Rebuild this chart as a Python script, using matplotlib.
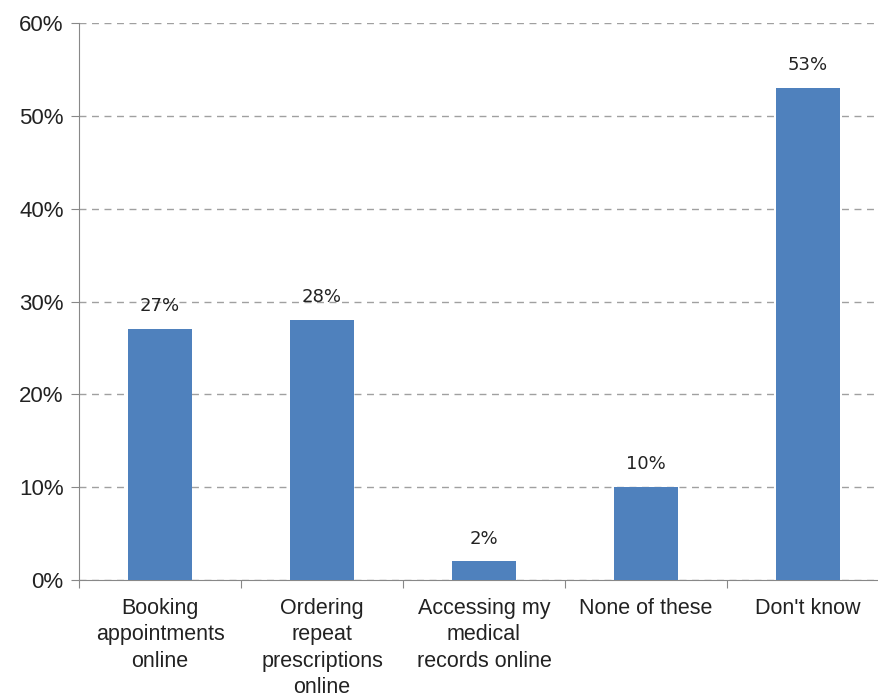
import matplotlib.pyplot as plt
from matplotlib.ticker import FuncFormatter

# datos
categorias = ["Booking\nappointments\nonline", "Ordering\nrepeat\nprescriptions\nonline",
              "Accessing my\nmedical\nrecords online", "None of these", "Don't know"]
valores = [27, 28, 2, 10, 53]
yticks = [0, 10, 20, 30, 40, 50, 60]

fig = plt.figure(figsize=(8.79, 6.98), dpi=100)
ax = fig.add_axes([0.0899, 0.169, 0.9215, 0.798])

x = range(len(valores))
barras = ax.bar(x, valores, width=0.4, color="#4F81BD", zorder=3)

for xi, v in zip(x, valores):
    ax.annotate(f"{v}%", (xi, v), xytext=(0, 10), textcoords="offset points",
                ha="center", va="bottom", fontsize=13, family="DejaVu Sans", color="#222222")

ax.set_xlim(-0.5, 4.5)
ax.set_ylim(0, 60)
ax.set_yticks(yticks)
ax.yaxis.set_major_formatter(FuncFormatter(lambda v, p: f"{v:.0f}%"))
ax.set_xticks([i - 0.5 for i in range(6)])
ax.set_xticklabels([])
ax.set_xticks(list(x), minor=True)
ax.set_xticklabels(categorias, minor=True, fontsize=15.5, family="Liberation Sans",
                   color="#222222", linespacing=1.33, va="top")
ax.tick_params(axis="x", which="minor", length=0, pad=13)
ax.tick_params(axis="x", which="major", length=6, color="#888888", direction="out")
ax.tick_params(axis="y", length=6, color="#888888", labelsize=16, labelcolor="#222222", pad=5)
for lbl in ax.get_yticklabels():
    lbl.set_family("Liberation Sans")

ax.grid(axis="y", linestyle=(0, (5, 4)), color="#a0a0a0", linewidth=1, zorder=0)
for s in ["top", "right"]:
    ax.spines[s].set_visible(False)
ax.spines["left"].set_color("#888888")
ax.spines["bottom"].set_color("#888888")

plt.savefig("out.png", dpi=100)
